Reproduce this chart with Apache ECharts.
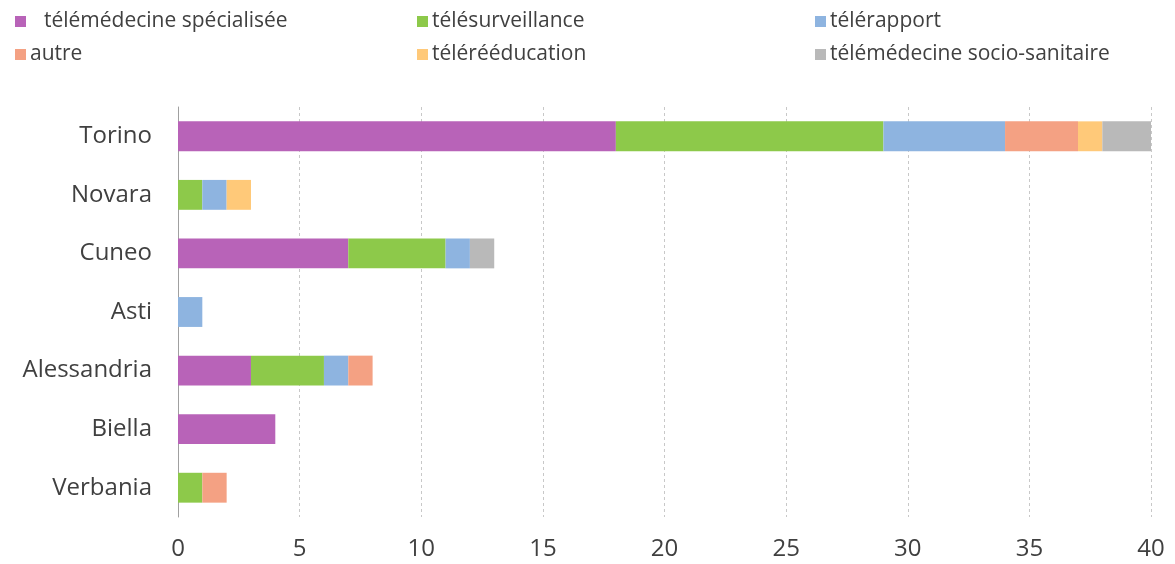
<!DOCTYPE html>
<html><head><meta charset="utf-8">
<script src="https://cdn.jsdelivr.net/npm/echarts@6/dist/echarts.min.js"></script>
<style>html,body{margin:0;padding:0;background:#fff}#c{width:1175px;height:564px}</style>
</head><body><div id="c"></div>
<script>
const categories = ['Torino','Novara','Cuneo','Asti','Alessandria','Biella','Verbania'];
const seriesNames = ['télémédecine spécialisée','télésurveillance','télérapport','autre','télérééducation','télémédecine socio-sanitaire'];
const specialisee = [18,0,7,0,3,4,0];
const surveillance = [11,1,4,0,3,0,1];
const rapport = [5,1,1,1,1,0,0];
const autre = [3,0,0,0,1,0,1];
const reeducation = [1,1,0,0,0,0,0];
const socio = [2,0,1,0,0,0,0];
const xTicks = [0,5,10,15,20,25,30,35,40];
const colors = ['#b863b8','#8dc94a','#8eb4e0','#f4a183','#ffc979','#b9b9b9'];
const values = [specialisee,surveillance,rapport,autre,reeducation,socio];
const FONT = 'Open Sans';
const chart = echarts.init(document.getElementById('c'));
const legendBase = {orient:'vertical', top:11, padding:0, itemWidth:11, itemHeight:11, itemGap:12, icon:'rect',
  textStyle:{fontFamily:FONT,fontSize:21,color:'#404040',padding:[0,0,0,-1],
    rich:{g:{width:14,fontSize:21}}}};
chart.setOption({
  animation:false,
  color:colors,
  legend:[
    Object.assign({}, legendBase, {left:15, data:[seriesNames[0],seriesNames[3]],
      formatter:n => n===seriesNames[0] ? '{g|}'+n : n}),
    Object.assign({}, legendBase, {left:417, data:[seriesNames[1],seriesNames[4]]}),
    Object.assign({}, legendBase, {left:815, data:[seriesNames[2],seriesNames[5]]})
  ],
  grid:{left:178, right:24, top:107, bottom:47, containLabel:false},
  xAxis:{type:'value', min:0, max:40, interval:5,
    axisLine:{show:false}, axisTick:{show:false},
    axisLabel:{fontFamily:FONT,fontSize:24,color:'#404040',margin:20,
      formatter:v => xTicks.includes(v) ? String(v) : ''},
    splitLine:{show:true,lineStyle:{color:'#c8c8c8',type:[3,3],width:1}}},
  yAxis:{type:'category', data:categories, inverse:true,
    axisLine:{show:true,lineStyle:{color:'#a0a0a0',width:1}}, axisTick:{show:false},
    axisLabel:{fontFamily:FONT,fontSize:24,color:'#404040',margin:26}},
  series:values.map((v,i)=>({name:seriesNames[i], type:'bar', stack:'t', data:v,
    barWidth:'51%', itemStyle:{color:colors[i]}}))
});
</script></body></html>
